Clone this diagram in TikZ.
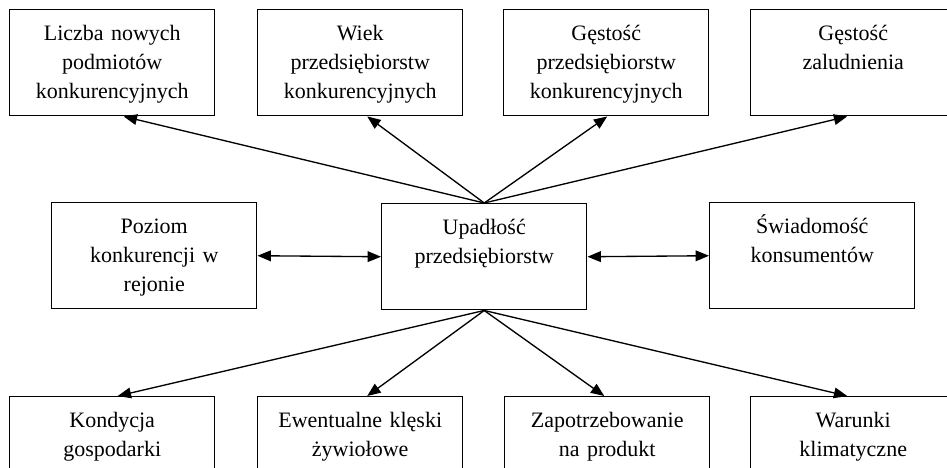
\documentclass[tikz,border=0pt]{standalone}
\usepackage{fontspec}
\setmainfont{Liberation Serif}
\usetikzlibrary{arrows.meta}
\begin{document}
\begin{tikzpicture}[x=0.75pt,y=-0.75pt,
  box/.style={draw, line width=1.1pt, rectangle, anchor=north west,
    inner sep=0pt, text width=153.75pt, align=center,
    text height=23.25pt, text depth=56.25pt,
    font=\fontsize{16.5pt}{21.75pt}\selectfont},
  link/.style={line width=1pt, -{Triangle[length=10pt,width=8pt]}},
  both/.style={line width=1pt,
    {Triangle[length=10pt,width=8pt]}-{Triangle[length=10pt,width=8pt]}}]

\useasboundingbox (0,0) rectangle (947,468);
\clip (0,0) rectangle (947,468);

% top row
\node[box] (t1) at (9,9)   {Liczba nowych\\podmiotów\\konkurencyjnych};
\node[box] (t2) at (257,9) {Wiek\\przedsiębiorstw\\konkurencyjnych};
\node[box] (t3) at (503,9) {Gęstość\\przedsiębiorstw\\konkurencyjnych};
\node[box] (t4) at (750,9) {Gęstość\\zaludnienia};

% middle row
\node[box] (m1) at (51,202)  {Poziom\\konkurencji w\\rejonie};
\node[box] (c)  at (381,203) {Upadłość\\przedsiębiorstw};
\node[box] (m3) at (709,202) {Świadomość\\konsumentów};

% bottom row
\node[box] (b1) at (9,396)   {Kondycja\\gospodarki};
\node[box] (b2) at (257,396) {Ewentualne klęski\\żywiołowe};
\node[box] (b3) at (504,396) {Zapotrzebowanie\\na produkt};
\node[box] (b4) at (750,396) {Warunki\\klimatyczne};

% links to the top row
\draw[link] (c.north) -- ([xshift=8.6pt]t1.south);
\draw[link] (c.north) -- ([xshift=5.25pt]t2.south);
\draw[link] (c.north) -- ([xshift=0.75pt]t3.south);
\draw[link] (c.north) -- ([xshift=-4.5pt]t4.south);

% two-way links in the middle row
\draw[both] (m1.east) -- (c.west);
\draw[both] (c.east) -- (m3.west);

% links to the bottom row
\draw[link] (c.south) -- ([xshift=4.1pt]b1.north);
\draw[link] (c.south) -- ([xshift=5.25pt]b2.north);
\draw[link] (c.south) -- ([xshift=-2.25pt]b3.north);
\draw[link] (c.south) -- ([xshift=-4.5pt]b4.north);
\end{tikzpicture}
\end{document}
